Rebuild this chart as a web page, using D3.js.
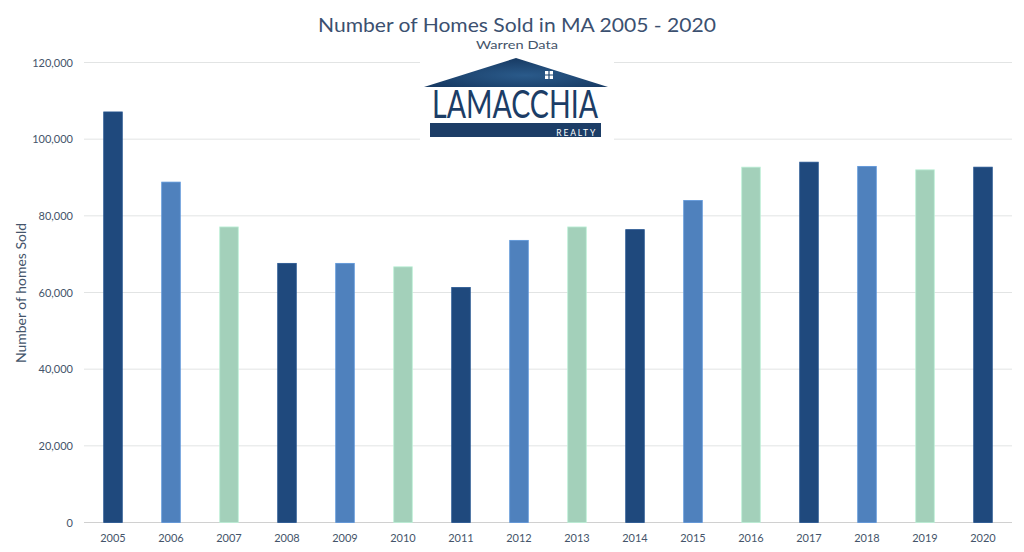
<!DOCTYPE html>
<html><head><meta charset="utf-8">
<script src="https://cdn.jsdelivr.net/npm/d3@7"></script>
<style>body{margin:0;background:#fff}svg{display:block}text{font-family:"Lato","Noto Sans",sans-serif}</style>
</head><body><svg id="c" width="1024" height="552"></svg>
<script>
const years = ["2005","2006","2007","2008","2009","2010","2011","2012","2013","2014","2015","2016","2017","2018","2019","2020"];
const homesSold = [107100,88800,77100,67600,67600,66700,61300,73600,77100,76400,84000,92700,94000,92900,92000,92700];
const barColors = ["#1f497d","#4f81bd","#a3d0ba"];
const yTicks = [0,20000,40000,60000,80000,100000,120000];

const svg = d3.select("#c");
const x = d3.scaleBand().domain(years).range([84,1012]).paddingInner(0.68).paddingOuter(0.34);
const y = d3.scaleLinear().domain([0,120000]).range([522.5,62.5]);
const txt = "#44546a";

// gridlines
svg.append("g").selectAll("line").data(yTicks).join("line")
  .attr("x1",84).attr("x2",1012).attr("y1",d=>y(d)).attr("y2",d=>y(d))
  .attr("stroke",d=>d===0?"#d0d0d0":"#e2e4e4").attr("stroke-width",1);

// y axis labels
const ya = svg.append("g").attr("transform","translate(84,0)")
  .call(d3.axisLeft(y).tickValues(yTicks).tickSize(0).tickPadding(11).tickFormat(d3.format(",")));
ya.select(".domain").remove();
ya.selectAll("text").attr("fill",txt).attr("font-size",11);

// x axis labels
const xa = svg.append("g").attr("transform","translate(0,522.5)")
  .call(d3.axisBottom(x).tickSize(0).tickPadding(12));
xa.select(".domain").remove();
xa.selectAll("text").attr("fill",txt).attr("font-size",11);

// bars
svg.append("g").selectAll("rect").data(years).join("rect")
  .attr("x",d=>x(d)).attr("width",x.bandwidth())
  .attr("y",(d,i)=>y(homesSold[i])).attr("height",(d,i)=>y(0)-y(homesSold[i]))
  .attr("fill",(d,i)=>barColors[i%3])
  .attr("stroke",(d,i)=>d3.color(barColors[i%3]).brighter(0.4)).attr("stroke-width",0.8);

// titles
svg.append("text").attr("x",517).attr("y",32).attr("text-anchor","middle")
  .attr("fill","#3b5070").attr("font-size",19).attr("textLength",398).attr("lengthAdjust","spacingAndGlyphs")
  .text("Number of Homes Sold in MA 2005 - 2020");
svg.append("text").attr("x",517).attr("y",49).attr("text-anchor","middle")
  .attr("fill",txt).attr("font-size",12).attr("textLength",82).attr("lengthAdjust","spacingAndGlyphs")
  .text("Warren Data");
svg.append("text").attr("transform","translate(26,293) rotate(-90)").attr("text-anchor","middle")
  .attr("fill",txt).attr("font-size",12.5).attr("textLength",140).attr("lengthAdjust","spacingAndGlyphs")
  .text("Number of homes Sold");

// logo
const logo = svg.append("g");
logo.append("rect").attr("x",420).attr("y",54).attr("width",194).attr("height",86).attr("fill","#fff");
const grad = svg.append("defs").append("radialGradient").attr("id","rg").attr("cx","0.55").attr("cy","0.6").attr("r","0.6");
grad.append("stop").attr("offset","0").attr("stop-color","#2a5a8a");
grad.append("stop").attr("offset","1").attr("stop-color","#173a63");
logo.append("path").attr("d","M424,87 L516,58 L608,87 Z").attr("fill","url(#rg)");
logo.append("rect").attr("x",545).attr("y",71).attr("width",8).attr("height",8).attr("fill","#fff");
logo.append("path").attr("d","M549,71V79M545,75H553").attr("stroke","#1f4770").attr("stroke-width",1.2);
logo.append("text").attr("x",515).attr("y",118).attr("text-anchor","middle")
  .attr("fill","#1c3d66").attr("font-size",38).attr("font-family","Liberation Sans Narrow, DejaVu Sans Condensed, sans-serif")
  .attr("textLength",166).attr("lengthAdjust","spacingAndGlyphs").text("LAMACCHIA");
logo.append("rect").attr("x",430).attr("y",123).attr("width",171).attr("height",14).attr("fill","#1c3d66");
logo.append("text").attr("x",597).attr("y",135.5).attr("text-anchor","end")
  .attr("fill","#fff").attr("font-size",8.5).attr("letter-spacing",1.8).text("REALTY");
</script></body></html>
